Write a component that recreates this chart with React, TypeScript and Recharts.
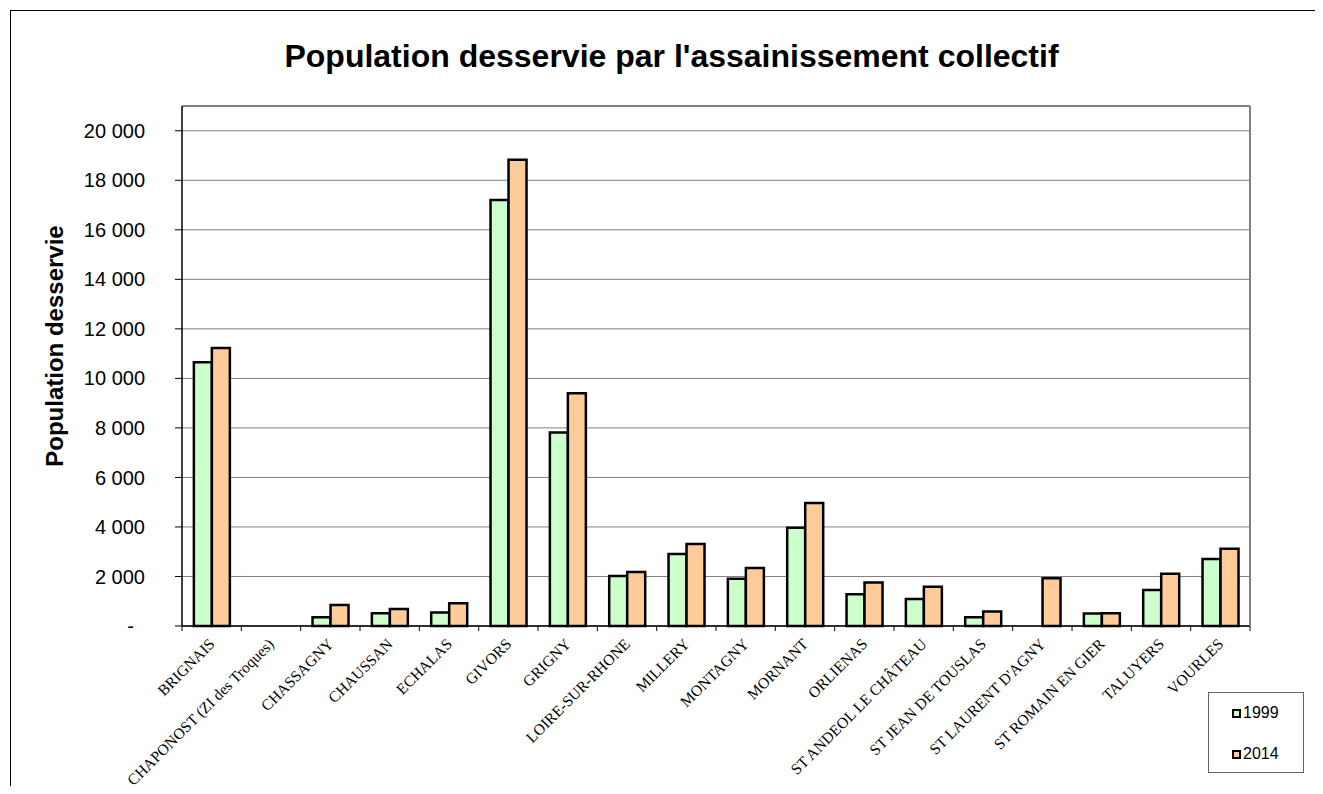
import React from 'react';
import { BarChart, Bar, XAxis, YAxis, CartesianGrid, ReferenceLine } from 'recharts';

const categories = [
  'BRIGNAIS', 'CHAPONOST (ZI des Troques)', 'CHASSAGNY', 'CHAUSSAN', 'ECHALAS', 'GIVORS', 'GRIGNY',
  'LOIRE-SUR-RHONE', 'MILLERY', 'MONTAGNY', 'MORNANT', 'ORLIENAS', 'ST ANDEOL LE CHÂTEAU',
  'ST JEAN DE TOUSLAS', "ST LAURENT D'AGNY", 'ST ROMAIN EN GIER', 'TALUYERS', 'VOURLES',
];
const values1999 = [10650, 0, 350, 510, 550, 17200, 7810, 2020, 2910, 1910, 3970, 1280, 1090, 350, 0, 500, 1450, 2710];
const values2014 = [11230, 0, 850, 690, 920, 18830, 9400, 2180, 3310, 2340, 4970, 1760, 1590, 590, 1930, 510, 2110, 3120];
const seriesNames = ['1999', '2014'];
const yTicks = [0, 2000, 4000, 6000, 8000, 10000, 12000, 14000, 16000, 18000, 20000];

const data = categories.map((name, i) => ({ name, v1999: values1999[i], v2014: values2014[i] }));

const GREEN = '#CCFFCC';
const ORANGE = '#FFCC99';

const fmt = (v: number) => (v === 0 ? '-\u00A0\u00A0' : String(v).replace(/\B(?=(\d{3})+(?!\d))/g, ' '));

const XTick = (props: any) => {
  const { x, y, payload, index, visibleTicksCount, width } = props;
  const count = visibleTicksCount || categories.length;
  const step = (width || 1068) / count;
  const left = x - step / 2;
  return (
    <g>
      <line x1={left} y1={y} x2={left} y2={y + 5} stroke="#000" strokeWidth={1} />
      {index === count - 1 && (
        <line x1={x + step / 2} y1={y} x2={x + step / 2} y2={y + 5} stroke="#000" strokeWidth={1} />
      )}
      <text
        transform={`translate(${x + 4},${y + 19}) rotate(-45)`}
        textAnchor="end"
        fontFamily="'Liberation Serif', 'Times New Roman', serif"
        fontSize={15.5}
        fill="#000"
      >
        {payload.value}
      </text>
    </g>
  );
};

export default function App() {
  return (
    <div style={{ position: 'relative', width: 1323, height: 794, margin: -8, background: '#fff', overflow: 'hidden' }}>
      <div style={{ position: 'absolute', left: 10, top: 10, width: 1306, height: 800, border: '1px solid #000', boxSizing: 'border-box' }} />
      <div
        style={{
          position: 'absolute', left: 0, top: 38, width: 1343, textAlign: 'center',
          fontFamily: "'Liberation Sans', Arial, sans-serif", fontWeight: 'bold', fontSize: 32, color: '#000',
        }}
      >
        Population desservie par l'assainissement collectif
      </div>
      <div
        style={{
          position: 'absolute', left: 55, top: 346, transform: 'translate(-50%, -50%) rotate(-90deg)',
          whiteSpace: 'nowrap', fontFamily: "'Liberation Sans', Arial, sans-serif", fontWeight: 'bold', fontSize: 24, color: '#000',
        }}
      >
        Population desservie
      </div>
      <div style={{ position: 'absolute', left: 0, top: 0 }}>
        <BarChart
          width={1323}
          height={794}
          data={data}
          margin={{ top: 106, right: 72, bottom: 18, left: 102 }}
          barCategoryGap="20%"
          barGap={0}
        >
          <CartesianGrid vertical={false} stroke="#808080" strokeWidth={1} />
          <ReferenceLine y={21000} stroke="#808080" strokeWidth={2} ifOverflow="extendDomain" />
          <XAxis
            dataKey="name"
            interval={0}
            height={150}
            tickSize={0}
            tickMargin={0}
            tickLine={false}
            axisLine={{ stroke: '#000', strokeWidth: 1.5 }}
            tick={<XTick />}
          />
          <YAxis
            width={80}
            domain={[0, 21000]}
            ticks={yTicks}
            interval={0}
            tickFormatter={fmt}
            tickSize={7}
            tickMargin={30}
            axisLine={{ stroke: '#000', strokeWidth: 1.5 }}
            tickLine={{ stroke: '#000' }}
            tick={{ fill: '#000', fontSize: 20, fontFamily: "'Liberation Sans', Arial, sans-serif" }}
          />
          <YAxis
            yAxisId="right"
            orientation="right"
            width={1}
            tick={false}
            tickLine={false}
            axisLine={{ stroke: '#808080', strokeWidth: 2 }}
          />
          <Bar dataKey="v1999" name={seriesNames[0]} fill={GREEN} stroke="#000" strokeWidth={2.5} isAnimationActive={false} />
          <Bar dataKey="v2014" name={seriesNames[1]} fill={ORANGE} stroke="#000" strokeWidth={2.5} isAnimationActive={false} />
        </BarChart>
      </div>
      <div
        style={{
          position: 'absolute', left: 1208, top: 692, width: 96, height: 81, border: '1px solid #666', boxSizing: 'border-box',
          fontFamily: "'Liberation Sans', Arial, sans-serif", fontSize: 16, color: '#000',
        }}
      >
        {seriesNames.map((s, i) => (
          <div key={s} style={{ position: 'absolute', left: 23, top: 10 + i * 41, display: 'flex', alignItems: 'center', lineHeight: '20px' }}>
            <span style={{ display: 'inline-block', width: 5, height: 5, border: '2px solid #000', background: i === 0 ? GREEN : ORANGE, marginRight: 2 }} />
            <span>{s}</span>
          </div>
        ))}
      </div>
    </div>
  );
}
